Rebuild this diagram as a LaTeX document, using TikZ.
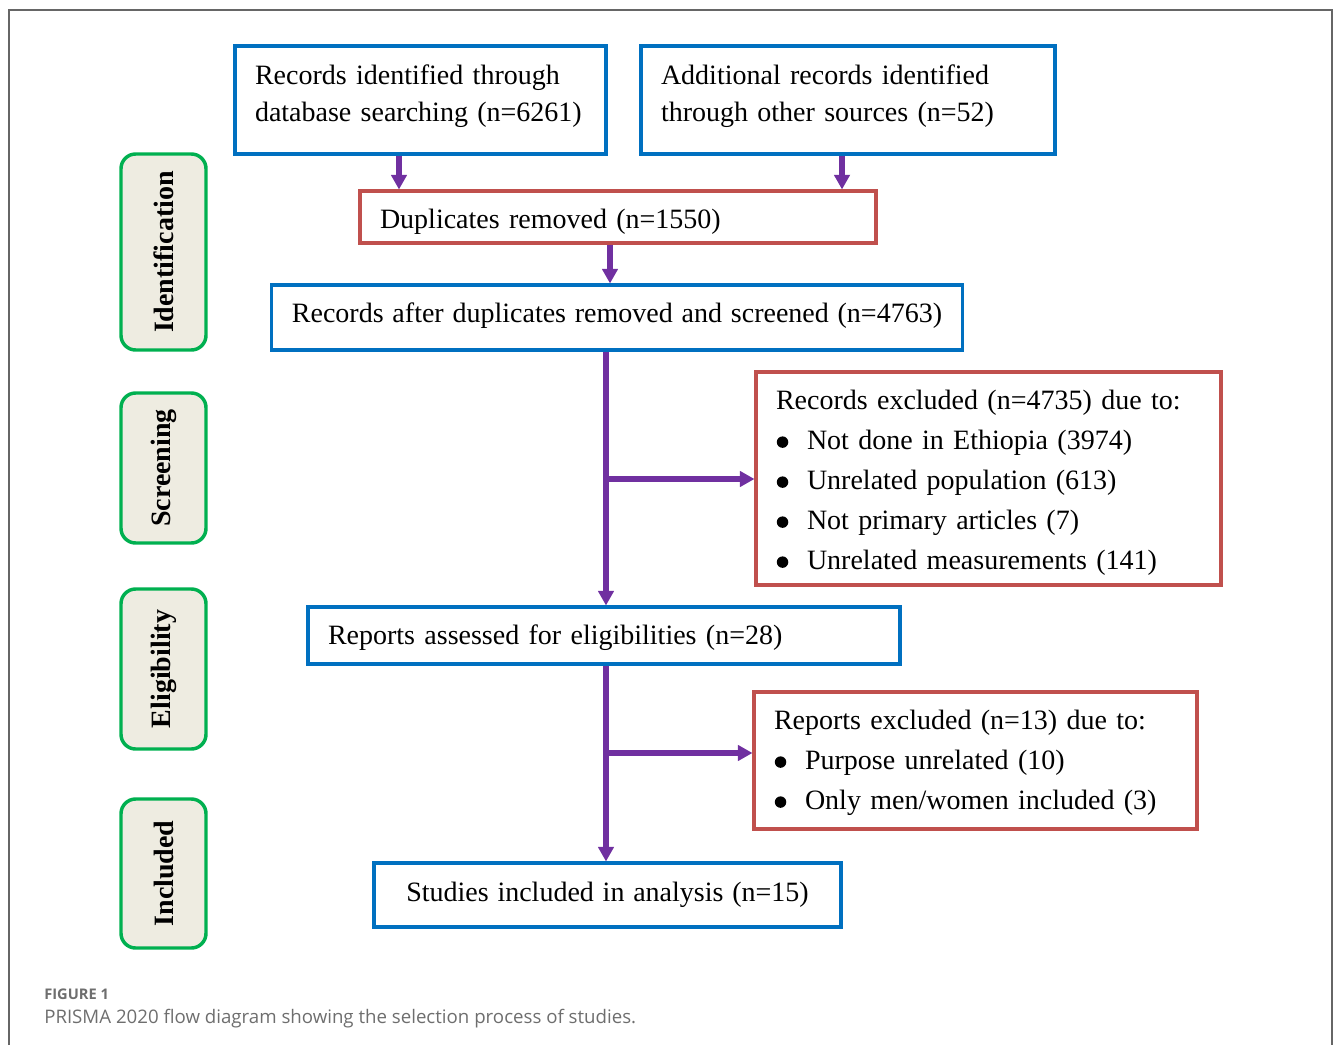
\documentclass[tikz,border=0pt]{standalone}
\usepackage{fontspec}
\setmainfont{Liberation Serif}
\newfontfamily\capfont{Open Sans}
\usetikzlibrary{arrows.meta}
\definecolor{boxblue}{HTML}{0070C0}
\definecolor{boxred}{HTML}{C0504D}
\definecolor{arrpurple}{HTML}{7030A0}
\definecolor{sidegreen}{HTML}{00B050}
\definecolor{sidefill}{HTML}{EEECE1}
\definecolor{framegray}{HTML}{666666}
\definecolor{capgray}{HTML}{6E6E6E}
\newcommand{\widespace}{\spaceskip=6.6pt plus 1pt minus 1pt\relax}
\tikzset{
  basebox/.style={draw, line width=2.3pt, inner xsep=15pt, inner ysep=0pt, font=\fontsize{21}{27.75}\selectfont},
  bluebox/.style={basebox, draw=boxblue},
  redbox/.style={basebox, draw=boxred},
  widebox/.style={bluebox, font=\fontsize{21}{27.75}\selectfont\widespace},
  listbox/.style={redbox, font=\fontsize{21}{30}\selectfont},
  sidebox/.style={draw=sidegreen, fill=sidefill, line width=2.6pt, rounded corners=11pt, rotate=90, inner sep=0pt,
    minimum height=63.75pt, font=\fontsize{21}{25}\selectfont\bfseries},
  arr/.style={draw=arrpurple, line width=4pt, -{Triangle[length=11pt,width=11.5pt]}},
}
\newcommand{\bul}{\makebox[23.25pt][l]{\hspace{0.6pt}\tikz[baseline=-5.3pt]\fill[black] (0,0) circle (4.3pt);}}
\newcommand{\dpfix}[1]{\rule[-#1]{0pt}{1pt}}
\newcommand{\htfix}[1]{\rule{0pt}{#1}}
\begin{document}
\begin{tikzpicture}[x=0.75pt,y=-0.75pt]
\useasboundingbox (0,0) rectangle (1333,1045);
\draw[framegray, line width=1.2pt] (9,1045) -- (9,10) -- (1332,10) -- (1332,1045);

% side labels
\node[sidebox, minimum width=147pt] (sI) at (163.5,252) {Identification};
\node[sidebox, minimum width=112.5pt] (sS) at (163.5,468) {Screening};
\node[sidebox, minimum width=120pt] (sE) at (163.5,669) {Eligibility};
\node[sidebox, minimum width=111.75pt] (sN) at (163.5,873.5) {Included};

% boxes
\node[bluebox, text width=248.25pt, align=left, minimum height=81pt] (A) at (420.5,100)
  {Records identified through\\database searching (n=6261)\dpfix{10.5pt}};
\node[bluebox, text width=280.5pt, align=left, minimum height=81pt] (B) at (848,100)
  {Additional records identified\\through other sources (n=52)\dpfix{10.5pt}};
\node[redbox, text width=357pt, align=left, minimum height=39pt] (D) at (618,217)
  {\htfix{21.5pt}Duplicates removed (n=1550)};
\node[widebox, minimum width=517.5pt, minimum height=48.75pt] (R) at (617,317.5)
  {Records after duplicates removed and screened (n=4763)\dpfix{7.6pt}};
\node[listbox, text width=318.75pt, align=left, minimum height=159.75pt] (E1) at (988.5,478.5)
  {\htfix{20.5pt}Records excluded (n=4735) due to:\\
   \bul Not done in Ethiopia (3974)\\
   \bul Unrelated population (613)\\
   \bul Not primary articles (7)\\
   \bul Unrelated measurements (141)};
\node[bluebox, text width=414pt, align=left, minimum height=42.75pt] (RA) at (604,635.5)
  {\htfix{17.5pt}Reports assessed for eligibilities (n=28)};
\node[listbox, text width=302.25pt, align=left, minimum height=102.75pt] (E2) at (975.5,760.5)
  {\htfix{17.5pt}Reports excluded (n=13) due to:\\
   \bul Purpose unrelated (10)\\
   \bul Only men/women included (3)};
\node[widebox, minimum width=350.25pt, minimum height=48pt] (S) at (607.5,895)
  {Studies included in analysis (n=15)};

% connectors
\coordinate (xa) at (399,0);
\coordinate (xb) at (842,0);
\coordinate (xd) at (610,0);
\coordinate (xm) at (606,0);
\coordinate (j1) at (606,479);
\coordinate (j2) at (606,753);
\draw[arr] (A.south -| xa) -- (D.north -| xa);
\draw[arr] (B.south -| xb) -- (D.north -| xb);
\draw[arr] (D.south -| xd) -- (R.north -| xd);
\draw[arr] (R.south -| xm) -- (RA.north -| xm);
\draw[arr] (j1) -- (j1 -| E1.west);
\draw[arr] (RA.south -| xm) -- (S.north -| xm);
\draw[arr] (j2) -- (j2 -| E2.west);

% caption
\node[anchor=base west, inner sep=0pt, text=capgray, font=\capfont\bfseries\fontsize{11}{13}\selectfont] (cap1) at (44,999) {FIGURE 1};
\node[anchor=base west, inner sep=0pt, text=capgray, font=\capfont\fontsize{14}{16}\selectfont] (cap2) at (44,1023) {PRISMA 2020 flow diagram showing the selection process of studies.};
\end{tikzpicture}
\end{document}
